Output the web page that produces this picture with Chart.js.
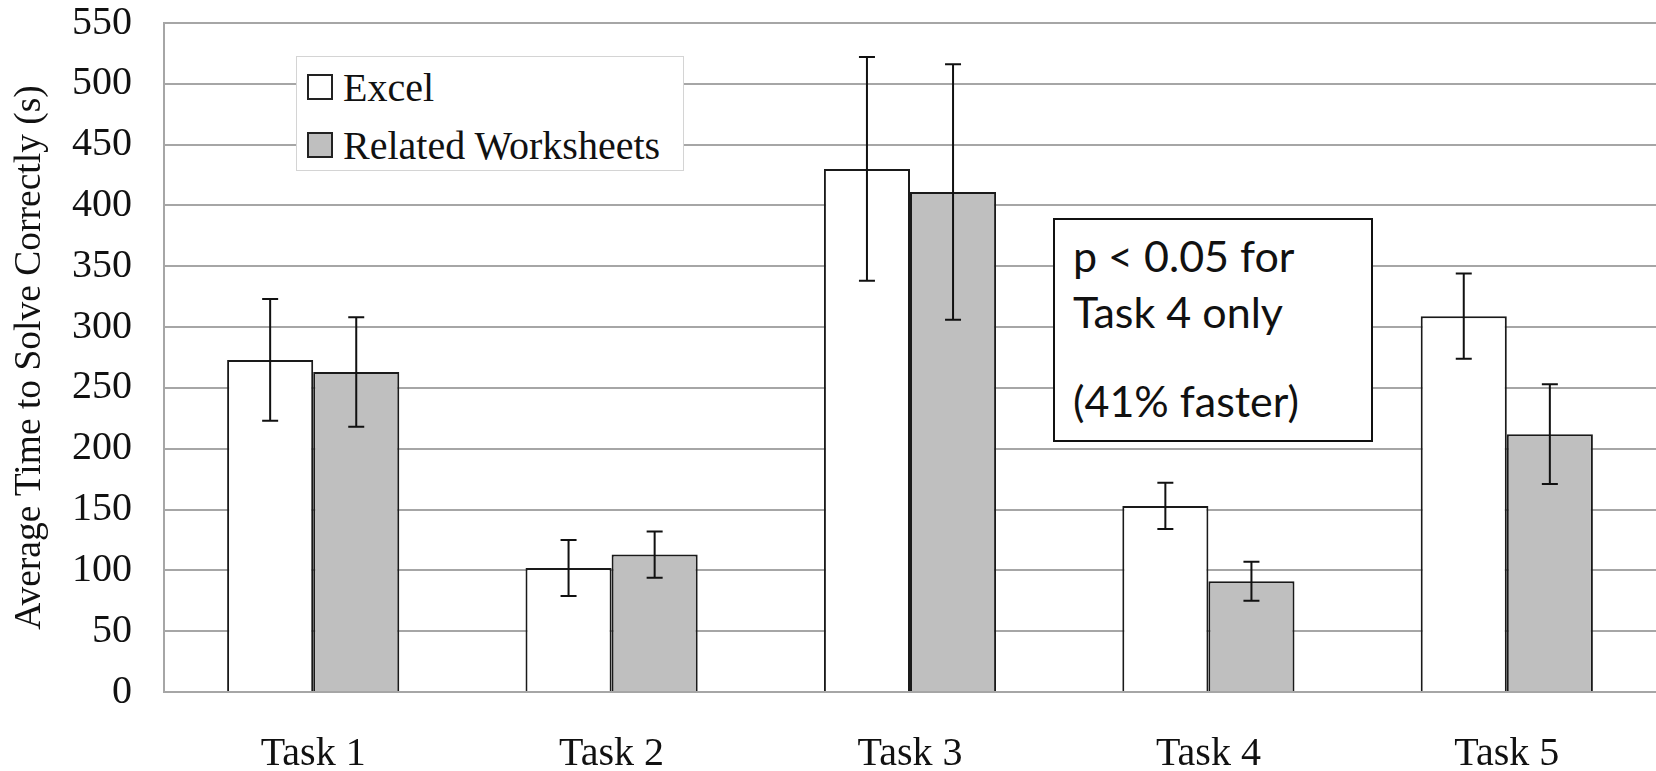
<!DOCTYPE html>
<html>
<head>
<meta charset="utf-8">
<script src="https://cdn.jsdelivr.net/npm/chart.js@4/dist/chart.umd.min.js"></script>
<style>
  html, body { margin: 0; padding: 0; background: #fff; overflow: hidden; }
  #wrap { position: relative; width: 1656px; height: 771px; }
  canvas { display: block; }
  #legend { position: absolute; left: 296px; top: 56px; width: 388px; height: 115px; box-sizing: border-box;
    border: 1.5px solid #d4d4d4; background: #fff; font-family: "Liberation Serif", "DejaVu Serif", serif;
    font-size: 40px; color: #111; }
  .li { position: absolute; left: 10px; height: 26px; display: flex; align-items: center; white-space: nowrap; }
  .sw { width: 26px; height: 26px; border: 2px solid #222; margin-right: 10px; box-sizing: border-box; flex: none; }
  #note { position: absolute; left: 1053px; top: 218px; width: 320px; height: 224px; box-sizing: border-box;
    border: 2.5px solid #111; background: #fff; font-family: Lato, "Open Sans", sans-serif;
    font-size: 43px; color: #111; }
  #note div { position: absolute; left: 18px; white-space: nowrap; line-height: 50px; height: 50px; }
</style>
</head>
<body>
<div id="wrap">
  <canvas id="c" width="1656" height="771"></canvas>
  <div id="legend">
    <div class="li" style="top:17px"><div class="sw" style="background:#ffffff"></div><span>Excel</span></div>
    <div class="li" style="top:75px"><div class="sw" style="background:#bfbfbf"></div><span>Related Worksheets</span></div>
  </div>
  <div id="note">
    <div style="top:11px">p &lt; 0.05 for</div>
    <div style="top:67px">Task 4 only</div>
    <div style="top:156px">(41% faster)</div>
  </div>
</div>
<script>
const categories = ["Task 1", "Task 2", "Task 3", "Task 4", "Task 5"];
const excelValues = [273, 102, 430, 153, 309];
const excelErrors = [50, 23, 92, 19, 35];
const rwValues = [263, 113, 411, 91, 212];
const rwErrors = [45, 19, 105, 16, 41];
const yTicks = [0, 50, 100, 150, 200, 250, 300, 350, 400, 450, 500, 550];

const errorBarPlugin = {
  id: 'errorBars',
  afterDatasetsDraw(chart) {
    const ctx = chart.ctx;
    const yScale = chart.scales.y;
    chart.data.datasets.forEach((ds, i) => {
      const meta = chart.getDatasetMeta(i);
      meta.data.forEach((bar, j) => {
        const v = ds.data[j], e = ds.errors[j];
        const yTop = yScale.getPixelForValue(v + e);
        const yBot = yScale.getPixelForValue(v - e);
        const x = bar.x;
        ctx.save();
        ctx.strokeStyle = '#111';
        ctx.lineWidth = 2;
        ctx.beginPath();
        ctx.moveTo(x, yTop); ctx.lineTo(x, yBot);
        ctx.moveTo(x - 8, yTop); ctx.lineTo(x + 8, yTop);
        ctx.moveTo(x - 8, yBot); ctx.lineTo(x + 8, yBot);
        ctx.stroke();
        ctx.restore();
      });
    });
  }
};

new Chart(document.getElementById('c'), {
  type: 'bar',
  data: {
    labels: categories,
    datasets: [
      { label: 'Excel', data: excelValues, errors: excelErrors, backgroundColor: '#ffffff', borderColor: '#1a1a1a', borderWidth: 2 },
      { label: 'Related Worksheets', data: rwValues, errors: rwErrors, backgroundColor: '#bfbfbf', borderColor: '#1a1a1a', borderWidth: 2 }
    ]
  },
  options: {
    responsive: false,
    animation: false,
    devicePixelRatio: 1,
    layout: { padding: { top: 23, right: 0, left: 0, bottom: 0 } },
    plugins: { legend: { display: false }, tooltip: { enabled: false } },
    datasets: { bar: { categoryPercentage: 0.577, barPercentage: 1.0 } },
    scales: {
      x: {
        grid: { display: false, drawTicks: false },
        border: { display: true, color: '#a6a6a6', width: 2 },
        ticks: { padding: 38, color: '#111', font: { family: 'Liberation Serif', size: 40 } },
        afterFit(s) { s.height = 79; }
      },
      y: {
        min: 0, max: 550,
        afterBuildTicks(s) { s.ticks = yTicks.map(v => ({ value: v })); },
        grid: { color: '#a6a6a6', lineWidth: 2, drawTicks: true, tickLength: 32, tickColor: 'rgba(0,0,0,0)' },
        border: { display: true, color: '#a6a6a6', width: 2 },
        ticks: { padding: 0, color: '#111', font: { family: 'Liberation Serif', size: 40, lineHeight: 1.15 } },
        title: { display: true, text: 'Average Time to Solve Correctly (s)', color: '#111',
          font: { family: 'Liberation Serif', size: 37.5 }, padding: { top: 8, bottom: 0 } },
        afterFit(s) { s.width = 164; }
      }
    }
  },
  plugins: [errorBarPlugin]
});
</script>
</body>
</html>
